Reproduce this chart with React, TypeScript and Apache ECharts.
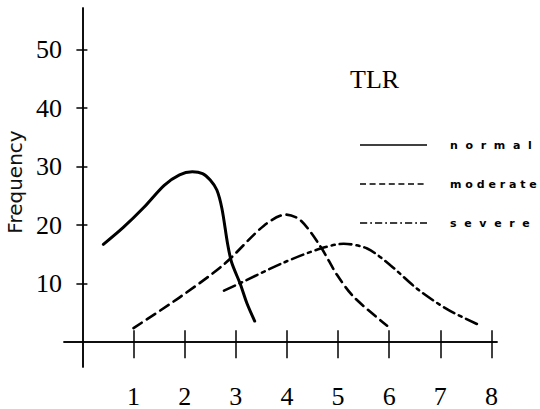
import React, { useEffect, useRef } from "react";
import * as echarts from "echarts";

const xTicks = [1, 2, 3, 4, 5, 6, 7, 8];
const yTicks = [10, 20, 30, 40, 50];

const normal: [number, number][] = [
  [0.41, 16.7], [0.8, 19.6], [1.2, 23.0], [1.6, 26.8], [1.9, 28.6], [2.15, 29.1],
  [2.35, 28.8], [2.50, 27.7], [2.63, 26.0], [2.73, 22.8], [2.84, 16.8],
  [2.92, 13.6], [3.09, 9.9], [3.22, 6.6], [3.37, 3.6],
];
const moderate: [number, number][] = [
  [1.0, 2.4], [1.91, 7.7], [2.77, 13.3], [3.55, 19.9], [3.98, 21.8],
  [4.27, 20.8], [4.66, 16.3], [4.98, 11.5], [5.31, 7.7], [5.96, 2.8],
];
const severe: [number, number][] = [
  [2.77, 8.8], [3.09, 10.1], [3.94, 13.6], [4.66, 16.0], [5.11, 16.8],
  [5.57, 16.0], [6.03, 13.1], [6.55, 9.1], [7.14, 5.6], [7.79, 2.8],
];
const seriesNames = ["normal", "moderate", "severe"];
const legendLabels = ["n  o  r  m  a  l", "m o d e r a t e", "s  e  v  e  r  e"];

export default function App() {
  const ref = useRef<HTMLDivElement>(null);
  useEffect(() => {
    if (!ref.current) return;
    const chart = echarts.init(ref.current, null, { renderer: "svg" });
    const axisLine = { show: true, onZero: true, lineStyle: { color: "#000", width: 1.5 } };
    const serif = "'Liberation Serif', 'Times New Roman', serif";
    const dashes = [[], [10, 6], [12, 5, 3, 5]];
    const widths = [3, 2.6, 2.6];
    const smooths = [0.3, 0.3, 0.3];
    const legendY = [145, 184, 223];
    const graphic: any[] = [
      {
        type: "text",
        left: 350,
        top: 66,
        style: { text: "TLR", font: `26px ${serif}`, fill: "#000" },
      },
      {
        type: "text",
        x: 15,
        y: 182,
        rotation: Math.PI / 2,
        style: {
          text: "Frequency",
          font: "20px 'DejaVu Sans', sans-serif",
          fill: "#111",
          align: "center",
          verticalAlign: "middle",
        },
      },
    ];
    seriesNames.forEach((n, i) => {
      graphic.push({
        type: "line",
        shape: { x1: 360, y1: legendY[i], x2: 427, y2: legendY[i] },
        style: { stroke: "#000", lineWidth: 1.5, lineDash: dashes[i].length ? dashes[i].map((d) => d * 0.6) : null },
      });
      graphic.push({
        type: "text",
        x: 450,
        y: legendY[i],
        style: {
          text: legendLabels[i],
          font: "bold 11px 'DejaVu Sans', sans-serif",
          fill: "#000",
          verticalAlign: "middle",
        },
      });
    });
    chart.setOption({
      animation: false,
      grid: { left: 64, top: 8, width: 433, height: 379, containLabel: false },
      xAxis: [
        {
          type: "value",
          min: -0.36,
          max: 8.11,
          position: "bottom",
          axisLine,
          splitLine: { show: false },
          axisTick: { show: true, customValues: xTicks, length: 16, lineStyle: { color: "#000", width: 1.5 } },
          axisLabel: {
            customValues: xTicks,
            margin: 16,
            color: "#000",
            fontFamily: serif,
            fontSize: 26,
          },
        },
        {
          type: "value",
          min: -0.36,
          max: 8.11,
          position: "bottom",
          axisLine,
          splitLine: { show: false },
          axisTick: { show: true, inside: true, customValues: xTicks, length: 12, lineStyle: { color: "#000", width: 1.5 } },
          axisLabel: { show: false },
        },
      ],
      yAxis: [
        {
          type: "value",
          min: -4.25,
          max: 57.1,
          position: "left",
          axisLine,
          splitLine: { show: false },
          axisTick: { show: true, customValues: yTicks, length: 6, lineStyle: { color: "#000", width: 1.5 } },
          axisLabel: {
            customValues: yTicks,
            margin: 2,
            color: "#000",
            fontFamily: serif,
            fontSize: 26,
          },
        },
        {
          type: "value",
          min: -4.25,
          max: 57.1,
          position: "left",
          axisLine,
          splitLine: { show: false },
          axisTick: { show: true, inside: true, customValues: yTicks, length: 5, lineStyle: { color: "#000", width: 1.5 } },
          axisLabel: { show: false },
        },
      ],
      graphic,
      series: [normal, moderate, severe].map((d, i) => ({
        name: seriesNames[i],
        type: "line",
        data: d,
        smooth: smooths[i],
        showSymbol: false,
        lineStyle: {
          color: "#000",
          width: widths[i],
          type: dashes[i].length ? dashes[i] : "solid",
          cap: "round",
        },
      })),
    });
    return () => chart.dispose();
  }, []);
  return <div ref={ref} style={{ position: "absolute", left: 0, top: 0, width: 540, height: 409 }} />;
}
